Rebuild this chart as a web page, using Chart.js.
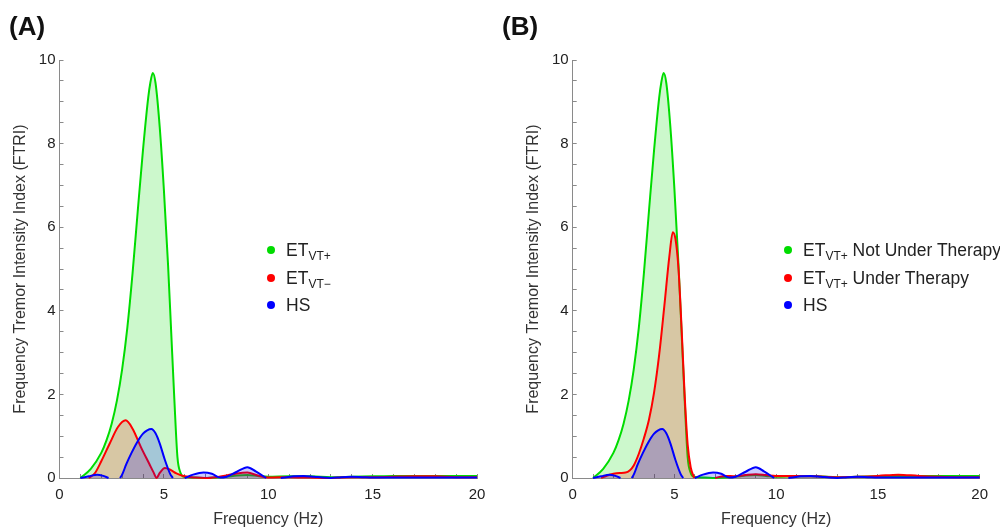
<!DOCTYPE html>
<html>
<head>
<meta charset="utf-8">
<script src="https://cdn.jsdelivr.net/npm/chart.js@4"></script>
<style>
  html, body { margin:0; padding:0; background:#fff; }
  #page { position:relative; width:1000px; height:528px; overflow:hidden; font-family:"Liberation Sans", Arial, sans-serif; }
  .panel { position:absolute; top:0; width:500px; height:528px; }
  .plabel { position:absolute; font-weight:bold; font-size:26px; line-height:1; color:#111; }
  .legend { position:absolute; font-size:17.5px; color:#222; white-space:nowrap; }
  .legend .row { position:relative; height:27.5px; line-height:20px; }
  .legend .dot { position:absolute; left:-19px; top:6px; width:8px; height:8px; border-radius:50%; }
  .legend sub { font-size:12px; vertical-align:-4px; line-height:0; }
</style>
</head>
<body>
<div id="page">
  <div class="panel" style="left:0"><canvas id="chartA" width="500" height="528"></canvas></div>
  <div class="panel" style="left:500px"><canvas id="chartB" width="500" height="528"></canvas></div>
  <div class="plabel" style="left:9px; top:13px">(A)</div>
  <div class="plabel" style="left:502px; top:13px">(B)</div>
  <div class="legend" style="left:286px; top:240px">
    <div class="row"><span class="dot" style="background:rgb(0,220,0)"></span>ET<sub>VT+</sub></div>
    <div class="row"><span class="dot" style="background:rgb(255,0,0)"></span>ET<sub>VT−</sub></div>
    <div class="row"><span class="dot" style="background:rgb(0,0,255)"></span>HS</div>
  </div>
  <div class="legend" style="left:803px; top:240px">
    <div class="row"><span class="dot" style="background:rgb(0,220,0)"></span>ET<sub>VT+</sub> Not Under Therapy</div>
    <div class="row"><span class="dot" style="background:rgb(255,0,0)"></span>ET<sub>VT+</sub> Under Therapy</div>
    <div class="row"><span class="dot" style="background:rgb(0,0,255)"></span>HS</div>
  </div>
</div>
<script>
// ---- Data ----
const freqGreen = [1,1.5,2,2.25,2.5,2.75,3,3.25,3.5,3.75,4,4.25,4.35,4.47,4.6,4.8,5,5.2,5.35,5.5,5.65,5.8,5.95,6.5,7,7.5,8,8.5,9,9.5,10,11,12,13,14,15,16,17,18,19,20];
const ftriGreen = [0,0.22,0.6,0.9,1.3,1.85,2.6,3.6,4.9,6.4,7.85,9.1,9.45,9.69,9.45,8.4,6.9,5.1,3.5,1.9,0.5,0.12,0.03,0.01,0,0.01,0.03,0.06,0.07,0.05,0.03,0.04,0.04,0.02,0.03,0.04,0.05,0.05,0.05,0.05,0.05];

const freqRedA = [1.4,1.7,2.0,2.4,2.8,3.17,3.5,3.9,4.3,4.5,4.65,4.8,5.05,5.3,5.6,6.0,6.5,7.0,7.5,8.0,8.5,9.0,9.5,10,11,12,13,14,15,16,17,18,19,20];
const ftriRedA = [0,0.12,0.4,0.82,1.22,1.38,1.18,0.74,0.34,0.14,0,0.12,0.24,0.2,0.11,0.04,0.01,0,0.02,0.06,0.11,0.13,0.06,0.01,0.02,0.01,0,0.02,0.02,0.03,0.04,0.04,0.02,0.02];

const freqBlue = [1.0,1.4,1.8,2.1,2.35,2.6,2.9,3.0,3.2,3.45,3.7,4.0,4.2,4.4,4.6,4.8,5.05,5.3,5.43,5.7,6.0,6.4,6.9,7.3,7.7,8.0,8.5,9.0,9.4,9.9,10.3,10.6,11.2,11.7,12.2,12.6,13.0,13.5,14.0,14.5,15,16,17,18,19,20];
const ftriBlue = [0,0.04,0.08,0.05,0,null,0,0.08,0.33,0.6,0.84,1.06,1.14,1.17,1.07,0.83,0.43,0.1,0,null,0,0.08,0.13,0.1,0.01,0.03,0.15,0.26,0.16,0,null,0,0.04,0.05,0.03,0.01,0,0.02,0.03,0.02,0.01,0.01,0.01,0.01,0.01,0.01];

const freqRedB = [1.4,1.7,2.0,2.3,2.6,2.8,3.0,3.25,3.5,3.75,4.0,4.25,4.5,4.75,4.92,5.05,5.2,5.35,5.5,5.65,5.8,5.98,6.5,7.0,7.5,8.0,8.5,9.0,9.5,10,11,12,13,14,15,16,17,18,19,20];
const ftriRedB = [0,0.06,0.1,0.12,0.13,0.18,0.3,0.58,0.95,1.4,2.05,2.95,4.1,5.3,5.88,5.72,5.0,3.6,2.0,0.8,0.25,0,null,0,0.05,0.04,0.07,0.09,0.07,0.05,0.05,0.04,0.02,0.03,0.05,0.08,0.05,0.03,0.02,0.02];

const xTickLabels = [0,5,10,15,20];
const yTickLabels = [0,2,4,6,8,10];

// ---- Helpers ----
function pts(xs, ys) { return xs.map((x, i) => ({x: x, y: ys[i]})); }
const GREEN = 'rgb(0,220,0)', RED = 'rgb(255,0,0)', BLUE = 'rgb(0,0,255)';
function ds(label, xs, ys, color, fillColor, order) {
  return {
    label: label, data: pts(xs, ys), borderColor: color, backgroundColor: fillColor,
    borderWidth: 2, pointRadius: 0, fill: 'origin', cubicInterpolationMode: 'monotone',
    spanGaps: false, order: order, clip: 6
  };
}
const FONT = '"Liberation Sans", Arial, sans-serif';
function makeOptions(yWidth, rightPad, yTitlePad) {
  return {
    responsive: false, animation: false,
    layout: { padding: { top: 60, right: rightPad, left: 0, bottom: 0 } },
    plugins: { legend: { display: false }, tooltip: { enabled: false } },
    scales: {
      x: {
        type: 'linear', min: 0, max: 20,
        afterFit: s => { s.height = 50; },
        border: { color: '#8a8a8a', width: 1 },
        grid: { drawOnChartArea: false, tickLength: -4, color: '#8a8a8a' },
        ticks: { stepSize: 1, autoSkip: false, maxRotation: 0, padding: 12, color: '#222',
                 font: { family: FONT, size: 15 },
                 callback: v => xTickLabels.includes(v) ? String(v) : '' },
        title: { display: true, text: 'Frequency (Hz)', color: '#333',
                 font: { family: FONT, size: 16 }, padding: { top: 0, bottom: -1 } }
      },
      y: {
        type: 'linear', min: 0, max: 10,
        afterFit: s => { s.width = yWidth; },
        border: { color: '#8a8a8a', width: 1 },
        grid: { drawOnChartArea: false, tickLength: -4, color: '#8a8a8a' },
        ticks: { stepSize: 0.5, autoSkip: false, padding: 8, color: '#222',
                 font: { family: FONT, size: 15 },
                 callback: v => yTickLabels.includes(v) ? String(v) : '' },
        title: { display: true, text: 'Frequency Tremor Intensity Index (FTRI)', color: '#333',
                 font: { family: FONT, size: 16 }, padding: { top: yTitlePad, bottom: 0 } }
      }
    }
  };
}

new Chart(document.getElementById('chartA'), {
  type: 'line',
  data: { datasets: [
    ds('ETVT+', freqGreen, ftriGreen, GREEN, 'rgba(0,220,0,0.2)', 3),
    ds('ETVT-', freqRedA, ftriRedA, RED, 'rgba(255,0,0,0.2)', 2),
    ds('HS', freqBlue, ftriBlue, BLUE, 'rgba(0,0,255,0.2)', 1)
  ]},
  options: makeOptions(59.5, 23, 11)
});

new Chart(document.getElementById('chartB'), {
  type: 'line',
  data: { datasets: [
    ds('ETVT+ Not Under Therapy', freqGreen, ftriGreen, GREEN, 'rgba(0,220,0,0.2)', 3),
    ds('ETVT+ Under Therapy', freqRedB, ftriRedB, RED, 'rgba(255,0,0,0.2)', 2),
    ds('HS', freqBlue, ftriBlue, BLUE, 'rgba(0,0,255,0.2)', 1)
  ]},
  options: makeOptions(72.7, 11.3, 24)
});
</script>
</body>
</html>
